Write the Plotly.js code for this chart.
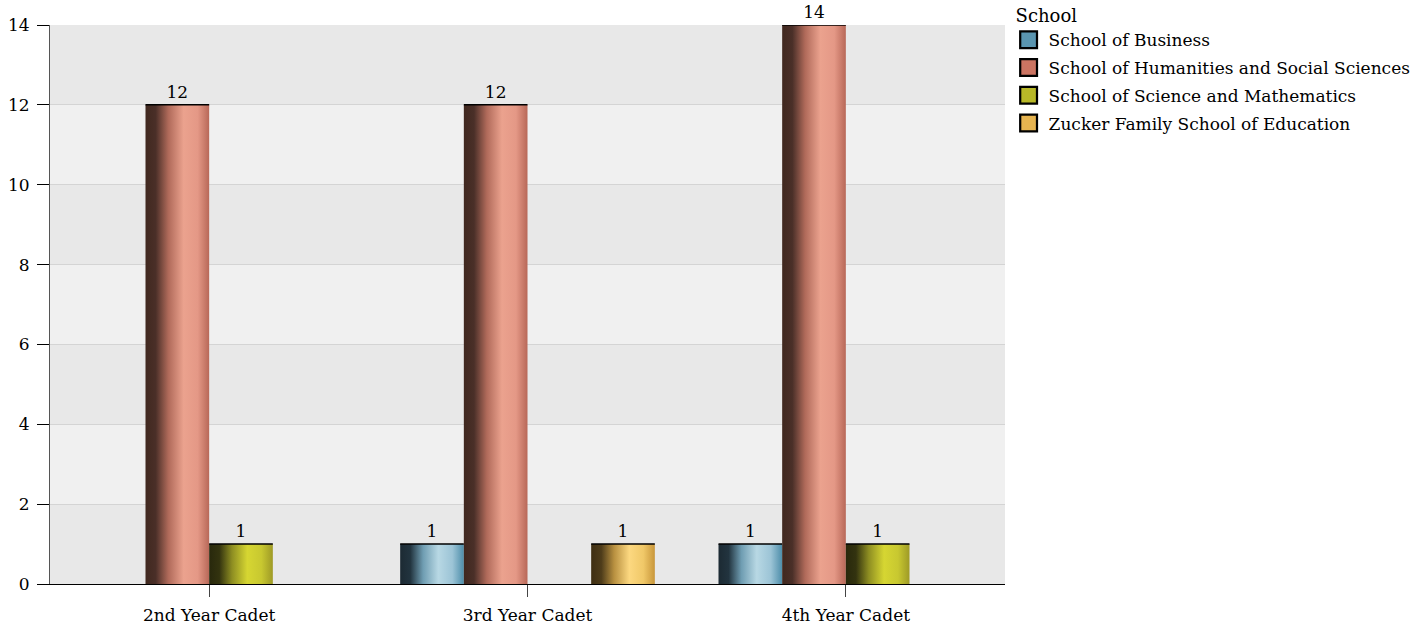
<!DOCTYPE html>
<html><head><meta charset="utf-8">
<script src="https://cdn.plot.ly/plotly-3.0.1.min.js"></script>
<style>html,body{margin:0;padding:0;background:#fff}#chart{width:1424px;height:629px}</style>
</head><body><div id="chart"></div>
<script>
const categories = ['2nd Year Cadet', '3rd Year Cadet', '4th Year Cadet'];
const schools = ['School of Business', 'School of Humanities and Social Sciences', 'School of Science and Mathematics', 'Zucker Family School of Education'];
const business = [null, 1, 1];
const humanities = [12, 12, 14];
const science = [1, null, 1];
const education = [null, 1, null];
const seriesValues = [business, humanities, science, education];
const baseColors = ['#5a95b0', '#cc7462', '#b8b828', '#e6b450'];
const gradStops = [
  ['#1c2a33', '#22343f', '#6f9db2', '#b8d8e4', '#9cc4d6', '#4e8eaa'],
  ['#40281f', '#4a2f28', '#b06a5a', '#eba28e', '#e49886', '#b86858'],
  ['#28280c', '#33330f', '#8e8e22', '#d6d632', '#c8c830', '#9e9a26'],
  ['#3e2e12', '#4e3c1a', '#b89040', '#fcd880', '#f0c868', '#c8963a']
];
const bandEdges = [2, 4, 6, 8, 10, 12];
const FONT = 'DejaVu Serif, serif';

const traces = schools.map((s, i) => ({
  type: 'bar', name: s, x: categories, y: seriesValues[i],
  text: seriesValues[i].map(v => v == null ? '' : String(v)),
  textposition: 'outside', cliponaxis: false,
  textfont: {family: FONT, size: 17, color: '#000'},
  marker: {color: baseColors[i], line: {color: '#000', width: 1.5}}
}));

const shapes = [];
for (let k = 0; k < bandEdges.length; k += 2) {
  shapes.push({type: 'rect', xref: 'paper', yref: 'y', x0: 0, x1: 1, y0: bandEdges[k], y1: bandEdges[k + 1],
    fillcolor: '#f0f0f0', line: {width: 0}, layer: 'below'});
}

const layout = {
  width: 1424, height: 629,
  margin: {l: 50, r: 419, t: 25, b: 45, autoexpand: false},
  paper_bgcolor: '#fff', plot_bgcolor: '#e8e8e8',
  font: {family: FONT, size: 17, color: '#000'},
  barmode: 'group', bargap: 0.2, bargroupgap: 0,
  shapes: shapes,
  xaxis: {type: 'category', range: [-0.5, 2.5], showline: true, linecolor: '#000', linewidth: 1,
    ticks: 'outside', ticklen: 12, tickcolor: '#444', showgrid: false, ticklabelstandoff: 4,
    tickfont: {family: FONT, size: 17, color: '#000'}},
  yaxis: {range: [0, 14], dtick: 2, showline: true, linecolor: '#555', linewidth: 1,
    ticks: 'outside', ticklen: 12, tickcolor: '#000', gridcolor: '#d4d4d4', gridwidth: 1, zeroline: false,
    ticklabelstandoff: 4,
    tickfont: {family: FONT, size: 17, color: '#000'}},
  legend: {x: 1.009, xanchor: 'left', y: 1.047, yanchor: 'top', bgcolor: 'rgba(0,0,0,0)',
    title: {text: 'School', font: {family: FONT, size: 18}},
    font: {family: FONT, size: 17, color: '#000'}, tracegroupgap: 0, itemwidth: 30},
  showlegend: true
};

Plotly.newPlot('chart', traces, layout, {displayModeBar: false, staticPlot: true}).then(gd => {
  const svg = gd.querySelector('svg.main-svg');
  const ns = 'http://www.w3.org/2000/svg';
  let defs = svg.querySelector('defs');
  if (!defs) { defs = document.createElementNS(ns, 'defs'); svg.insertBefore(defs, svg.firstChild); }
  const offs = [0, 0.16, 0.36, 0.6, 0.82, 1];
  gradStops.forEach((st, i) => {
    const g = document.createElementNS(ns, 'linearGradient');
    g.setAttribute('id', 'bargrad' + i);
    g.setAttribute('x1', '0'); g.setAttribute('y1', '0'); g.setAttribute('x2', '1'); g.setAttribute('y2', '0');
    st.forEach((c, j) => {
      const s = document.createElementNS(ns, 'stop');
      s.setAttribute('offset', offs[j]); s.setAttribute('stop-color', c);
      g.appendChild(s);
    });
    defs.appendChild(g);
  });
  gd.querySelectorAll('.barlayer .trace').forEach((tr, i) => {
    tr.querySelectorAll('path').forEach(p => {
      p.style.fill = 'url(#bargrad' + i + ')';
      const bb = p.getBBox();
      const h = bb.height, w = bb.width;
      p.style.strokeDasharray = '0,' + h + ',' + w + ',' + (h + w + 10);
    });
  });
  const sb = gd.querySelector('.legend .scrollbox');
  if (sb) sb.removeAttribute('clip-path');
  gd.querySelectorAll('.legend .traces').forEach((t, i) => {
    const tf = t.getAttribute('transform') || '';
    t.setAttribute('transform', tf + ' translate(-5,' + (i * 2.7).toFixed(1) + ')');
  });
  gd.querySelectorAll('.legend .legendpoints path').forEach(p => {
    const tf = p.getAttribute('transform') || '';
    p.setAttribute('transform', tf + ' scale(1.4)');
    p.style.strokeWidth = '1.6px';
    p.style.stroke = '#000';
  });
});
</script></body></html>
